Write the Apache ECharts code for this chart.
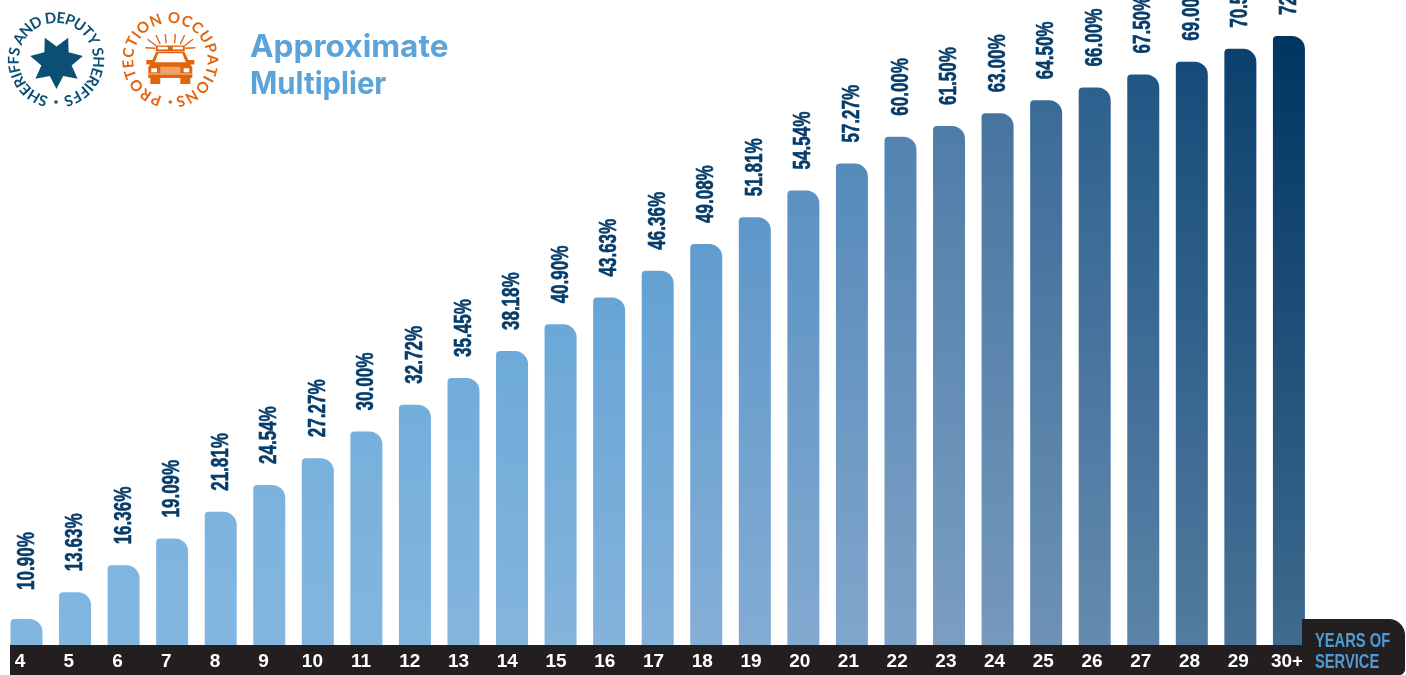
<!DOCTYPE html>
<html lang="en">
<head>
    <meta charset="UTF-8">
    <title>Approximate Multiplier</title>
    <style>
        html, body { margin: 0; padding: 0; background: #fff; }
    </style>
</head>
<body>
<div id="main" style="width: 1406px;height:675px;"></div>

<script src="https://cdn.jsdelivr.net/npm/echarts@6/dist/echarts.min.js"></script>
<script>
    var years = ['4', '5', '6', '7', '8', '9', '10', '11', '12', '13', '14', '15', '16', '17', '18', '19', '20', '21', '22', '23', '24', '25', '26', '27', '28', '29', '30+'];
    var multipliers = [10.90, 13.63, 16.36, 19.09, 21.81, 24.54, 27.27, 30.00, 32.72, 35.45, 38.18, 40.90, 43.63, 46.36, 49.08, 51.81, 54.54, 57.27, 60.00, 61.50, 63.00, 64.50, 66.00, 67.50, 69.00, 70.50, 72.00];
    // the step per year drops after 22 years, and the original draws that part flatter
    var lastSteepIndex = 18;

    var topRamp = ['#6fb2e0', '#69aedf', '#5fa6da', '#56a0d6', '#4f97cf', '#4d88bd', '#46749f', '#1f5585', '#003562'];
    var bottomRamp = ['#82b6df', '#82b6df', '#83b6de', '#84b5dd', '#84b2da', '#83a9d0', '#7a9cc0', '#5f86aa', '#3e6b8f'];

    var boldFont = '"Liberation Sans", sans-serif';
    var myChart = echarts.init(document.getElementById('main'));

    function barItem(value, i) {
        var t = i / (years.length - 1);
        return {
            value: value,
            itemStyle: {
                // global gradient so the shade depends on page height, not bar height
                color: new echarts.graphic.LinearGradient(0, 36, 0, 645, [
                    {offset: 0, color: echarts.color.lerp(t, topRamp)},
                    {offset: 1, color: echarts.color.lerp(t, bottomRamp)}
                ], true)
            }
        };
    }

    var steepData = multipliers.map(function (v, i) {
        return i <= lastSteepIndex ? barItem(v, i) : null;
    });
    var flatData = multipliers.map(function (v, i) {
        return i > lastSteepIndex ? barItem(v, i) : null;
    });
    var pairs = multipliers.map(function (v, i) {
        return [i, v];
    });

    // value labels are squeezed along their length, there is no condensed face installed
    function renderValueLabel(params, api) {
        var i = api.value(0);
        var p = api.coord([i, api.value(1)]);
        return {
            type: 'text',
            x: p[0] + 0.5,
            y: p[1] - (i === 0 ? 29 : 21),
            rotation: Math.PI / 2,
            scaleX: 0.71,
            style: {
                text: api.value(1).toFixed(2) + '%',
                font: 'bold 24px ' + boldFont,
                fill: '#053c69',
                stroke: '#053c69',
                lineWidth: 0.6,
                align: 'left',
                verticalAlign: 'middle'
            }
        };
    }

    // words set on a circle, clockwise, with a dot closing the ring at the bottom
    function ringText(text, cx, cy, r, color, fontSize, startDeg, endDeg) {
        var ctx = document.createElement('canvas').getContext('2d');
        var font = 'bold ' + fontSize + 'px "Lato", sans-serif';
        ctx.font = font;
        var total = ctx.measureText(text).width;
        var out = [];
        var run = 0;
        for (var i = 0; i < text.length; i++) {
            var w = ctx.measureText(text[i]).width;
            var deg = startDeg + (run + w / 2) / total * (endDeg - startDeg);
            var a = deg * Math.PI / 180;
            run += w;
            out.push({
                type: 'text',
                x: cx + r * Math.sin(a),
                y: cy - r * Math.cos(a),
                rotation: -a,
                style: {text: text[i], font: font, fill: color, align: 'center', verticalAlign: 'middle'}
            });
        }
        out.push({type: 'circle', shape: {cx: cx, cy: cy + r, r: 1.8}, style: {fill: color}});
        return out;
    }

    function starPoints(cx, cy, outer, inner, n) {
        var pts = [];
        for (var i = 0; i < n * 2; i++) {
            var a = Math.PI + i * Math.PI / n;
            var r = i % 2 ? inner : outer;
            pts.push([cx + r * Math.sin(a), cy - r * Math.cos(a)]);
        }
        return pts;
    }

    function carLogo(cx, cy, color) {
        var out = [];
        var fill = {fill: color};
        var white = {fill: '#fff'};
        function rect(x, y, w, h, style, r) {
            out.push({type: 'rect', shape: {x: cx + x, y: cy + y, width: w, height: h, r: r || 0}, style: style});
        }
        // rays over the light bar
        [[25, -12.3, 15, -11.7], [22.7, -20.7, 14.3, -14.3], [14.3, -25, 10, -15.7], [5, -26, 4.3, -16.7]].forEach(function (r) {
            [-1, 1].forEach(function (side) {
                out.push({
                    type: 'line',
                    shape: {x1: cx + side * r[0], y1: cy + r[1], x2: cx + side * r[2], y2: cy + r[3]},
                    style: {stroke: color, lineWidth: 1.4}
                });
            });
        });
        rect(-14.5, -14.5, 29, 5.5, fill);
        rect(-12.5, -13.2, 10, 2.6, white);
        rect(2.5, -13.2, 10, 2.6, white);
        // body
        out.push({type: 'polygon', shape: {points: [
            [cx - 14, cy - 8.5], [cx + 14, cy - 8.5], [cx + 18, cy], [cx + 24, cy], [cx + 24, cy + 4.5], [cx + 20, cy + 4.5],
            [cx + 22, cy + 7], [cx + 22, cy + 18], [cx + 20, cy + 18], [cx + 20, cy + 24], [cx + 10, cy + 24], [cx + 10, cy + 18],
            [cx - 10, cy + 18], [cx - 10, cy + 24], [cx - 20, cy + 24], [cx - 20, cy + 18], [cx - 22, cy + 18], [cx - 22, cy + 7],
            [cx - 20, cy + 4.5], [cx - 24, cy + 4.5], [cx - 24, cy], [cx - 18, cy]
        ]}, style: fill});
        // windscreen, lamps, grille and bumper line
        out.push({type: 'polygon', shape: {points: [[cx - 12, cy - 6.7], [cx + 12, cy - 6.7], [cx + 15.5, cy + 2.3], [cx - 15.5, cy + 2.3]]}, style: white});
        rect(-19, 8.3, 5.7, 4, white);
        rect(13.3, 8.3, 5.7, 4, white);
        rect(-10, 6.7, 20, 6.6, {fill: '#f1a26a'});
        rect(-22, 13.6, 44, 0.9, {fill: '#f6c7a4'});
        return out;
    }

    var ink = '#231f20';
    var serviceBlue = '#4f9bd3';
    var titleBlue = '#5ba4da';
    var badgeBlue = '#0b4f75';
    var badgeOrange = '#e0650f';
    var decorations = [
        {type: 'rect', z: 0, shape: {x: 10, y: 645, width: 1395, height: 30, r: [0, 0, 6, 0]}, style: {fill: ink}},
        {type: 'rect', z: 10, shape: {x: 1302, y: 619, width: 103, height: 56, r: [0, 16, 6, 0]}, style: {fill: ink}},
        {type: 'text', z: 11, x: 1315, y: 641, scaleX: 0.7, style: {text: 'YEARS OF', font: 'bold 21px ' + boldFont, fill: serviceBlue, verticalAlign: 'middle'}},
        {type: 'text', z: 11, x: 1315, y: 662, scaleX: 0.7, style: {text: 'SERVICE', font: 'bold 21px ' + boldFont, fill: serviceBlue, verticalAlign: 'middle'}},
        {type: 'text', x: 250, y: 47.5, scaleX: 1.02, style: {text: 'Approximate', font: 'bold 31px "Inter", sans-serif', fill: titleBlue, verticalAlign: 'middle'}},
        {type: 'text', x: 250, y: 84.5, scaleX: 0.945, style: {text: 'Multiplier', font: 'bold 31px "Inter", sans-serif', fill: titleBlue, verticalAlign: 'middle'}},
        {type: 'polygon', shape: {points: starPoints(56.5, 62, 27, 15.5, 7)}, style: {fill: badgeBlue}}
    ].concat(
        ringText('SHERIFFS AND DEPUTY SHERIFFS', 56, 60, 42, badgeBlue, 15, 192, 528),
        ringText('PROTECTION OCCUPATIONS', 170.3, 60, 42, badgeOrange, 15, 192, 528),
        carLogo(170.3, 60, badgeOrange)
    );

    var option = {
        animation: false,
        grid: [
            {left: 2.2, top: 0, width: 1311, height: 645},
            // tick labels sit a little left of the bars and drift back, so they get their own span
            {left: 20, top: 0, width: 1267, height: 645}
        ],
        xAxis: [
            {
                type: 'category',
                gridIndex: 0,
                data: years,
                axisLine: {show: false},
                axisTick: {show: false},
                axisLabel: {show: false}
            },
            {
                type: 'category',
                gridIndex: 1,
                boundaryGap: false,
                data: years,
                axisLine: {show: false},
                axisTick: {show: false},
                axisLabel: {
                    interval: 0,
                    margin: 7,
                    color: '#fff',
                    fontFamily: boldFont,
                    fontWeight: 'bold',
                    fontSize: 19
                }
            }
        ],
        yAxis: [
            {type: 'value', gridIndex: 0, show: false, min: 8.25, max: 73.93},
            {type: 'value', gridIndex: 0, show: false, min: 0.94, max: 76.2},
            {type: 'value', gridIndex: 1, show: false}
        ],
        series: [
            {
                name: 'Up to 22 years',
                type: 'bar',
                xAxisIndex: 0,
                yAxisIndex: 0,
                barWidth: 32,
                barGap: '-100%',
                data: steepData,
                itemStyle: {borderRadius: [4, 13, 0, 0]}
            },
            {
                name: '23 years and over',
                type: 'bar',
                xAxisIndex: 0,
                yAxisIndex: 1,
                barWidth: 32,
                barGap: '-100%',
                data: flatData,
                itemStyle: {borderRadius: [4, 13, 0, 0]}
            },
            {
                type: 'custom',
                xAxisIndex: 0,
                yAxisIndex: 0,
                clip: false,
                silent: true,
                renderItem: renderValueLabel,
                data: pairs.slice(0, lastSteepIndex + 1)
            },
            {
                type: 'custom',
                xAxisIndex: 0,
                yAxisIndex: 1,
                clip: false,
                silent: true,
                renderItem: renderValueLabel,
                data: pairs.slice(lastSteepIndex + 1)
            }
        ],
        graphic: decorations
    };

    myChart.setOption(option);
</script>

</body>
</html>
